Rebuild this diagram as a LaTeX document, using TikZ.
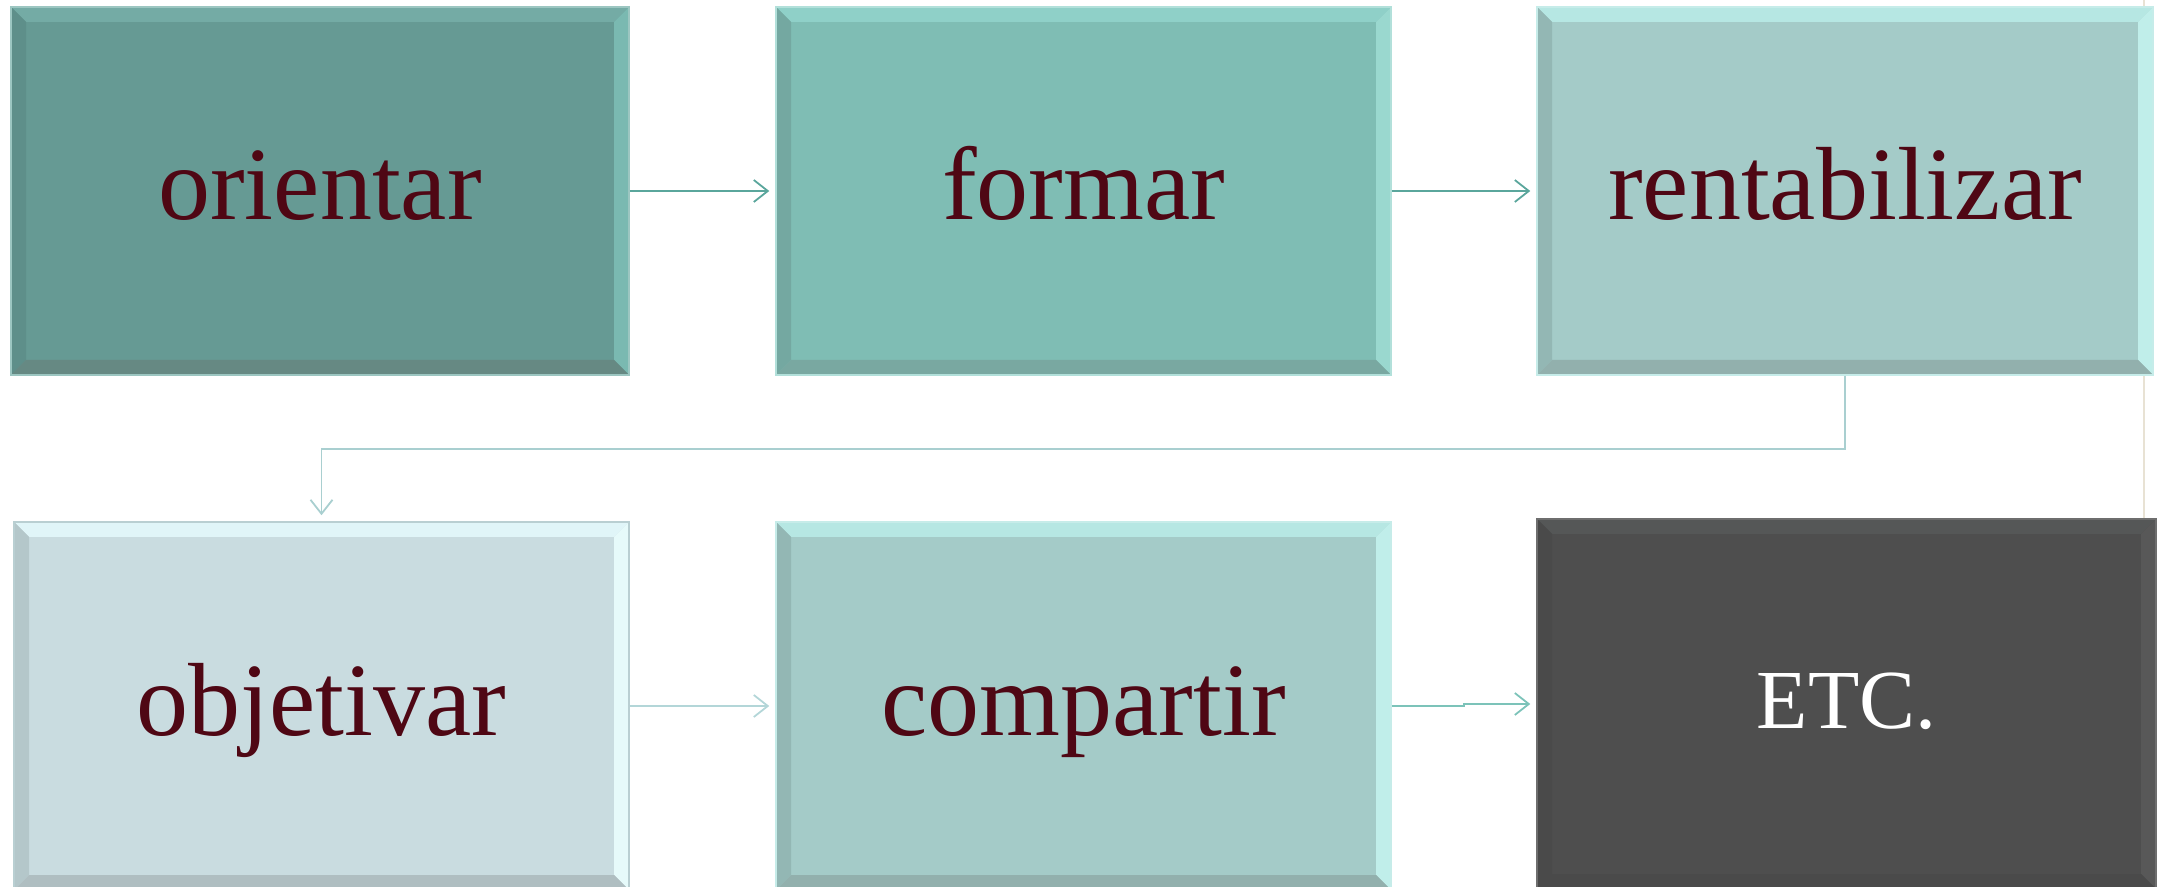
\documentclass[tikz,border=0pt]{standalone}
\usepackage{fontspec}
\setmainfont{Liberation Serif}
\usetikzlibrary{arrows.meta}
\definecolor{txtred}{HTML}{4F0714}
\definecolor{fA}{HTML}{669A94}\definecolor{tA}{HTML}{74ABA5}\definecolor{rA}{HTML}{7AB9B1}\definecolor{lA}{HTML}{5E8F8A}\definecolor{bA}{HTML}{668983}\definecolor{oA}{HTML}{9CC6C1}
\definecolor{fB}{HTML}{7FBDB4}\definecolor{tB}{HTML}{8FD0C8}\definecolor{rB}{HTML}{9AD8CF}\definecolor{lB}{HTML}{74A8A1}\definecolor{bB}{HTML}{79A8A1}\definecolor{oB}{HTML}{B2E0DA}
\definecolor{fC}{HTML}{A4CBC8}\definecolor{tC}{HTML}{B6E7E3}\definecolor{rC}{HTML}{C0EEEA}\definecolor{lC}{HTML}{93B7B4}\definecolor{bC}{HTML}{92B0AD}\definecolor{oC}{HTML}{C6ECE9}
\definecolor{fD}{HTML}{C9DCE0}\definecolor{tD}{HTML}{E0F5F8}\definecolor{rD}{HTML}{E6FAFA}\definecolor{lD}{HTML}{B4C7CA}\definecolor{bD}{HTML}{AFBEC1}\definecolor{oD}{HTML}{B9CFD2}
\definecolor{fE}{HTML}{4E4E4E}\definecolor{tE}{HTML}{555757}\definecolor{rE}{HTML}{585858}\definecolor{lE}{HTML}{4A4A4A}\definecolor{bE}{HTML}{4A4A4A}\definecolor{oE}{HTML}{6E6E6E}
\definecolor{arA}{HTML}{5AA69C}\definecolor{arB}{HTML}{A9CFD0}\definecolor{arC}{HTML}{B3D6D8}\definecolor{arD}{HTML}{7CC3B9}
\definecolor{beige}{HTML}{E8E2D4}
\tikzset{
  bevelbox/.style n args={6}{fill=#1, draw=#6, line width=0.75pt, inner sep=0pt,
    text=txtred, font=\fontsize{52}{60}\selectfont, text depth=0pt, text height=29pt,
    path picture={
      \fill[#2] (path picture bounding box.north west) -- (path picture bounding box.north east)
        -- ([shift={(-7.5pt,-7.5pt)}]path picture bounding box.north east)
        -- ([shift={(7.5pt,-7.5pt)}]path picture bounding box.north west) -- cycle;
      \fill[#3] (path picture bounding box.north east) -- (path picture bounding box.south east)
        -- ([shift={(-7.5pt,7.5pt)}]path picture bounding box.south east)
        -- ([shift={(-7.5pt,-7.5pt)}]path picture bounding box.north east) -- cycle;
      \fill[#4] (path picture bounding box.north west) -- (path picture bounding box.south west)
        -- ([shift={(7.5pt,7.5pt)}]path picture bounding box.south west)
        -- ([shift={(7.5pt,-7.5pt)}]path picture bounding box.north west) -- cycle;
      \fill[#5] (path picture bounding box.south west) -- (path picture bounding box.south east)
        -- ([shift={(-7.5pt,7.5pt)}]path picture bounding box.south east)
        -- ([shift={(7.5pt,7.5pt)}]path picture bounding box.south west) -- cycle;
    }},
  conn/.style={-{Straight Barb[length=7pt,width=11pt,line width=0.9pt]}, line width=0.9pt, shorten >=3pt}
}
\begin{document}
\begin{tikzpicture}[x=0.5pt,y=-0.5pt]
\useasboundingbox (0,0) rectangle (2164,887);
\clip (0,0) rectangle (2164,887);
\draw[beige, line width=1.2pt] (2144,0) -- (2144,887);
\node[bevelbox={fA}{tA}{rA}{lA}{bA}{oA}, minimum width=309pt, minimum height=184pt] (b1) at (320,191) {orientar};
\node[bevelbox={fB}{tB}{rB}{lB}{bB}{oB}, minimum width=307.5pt, minimum height=184pt] (b2) at (1083.5,191) {formar};
\node[bevelbox={fC}{tC}{rC}{lC}{bC}{oC}, minimum width=308pt, minimum height=184pt] (b3) at (1845,191) {rentabilizar};
\node[bevelbox={fD}{tD}{rD}{lD}{bD}{oD}, minimum width=307.5pt, minimum height=184pt] (b4) at (321.5,706) {objetivar};
\node[bevelbox={fC}{tC}{rC}{lC}{bC}{oC}, minimum width=307.5pt, minimum height=184pt] (b5) at (1083.5,706) {compartir};
\node[bevelbox={fE}{tE}{rE}{lE}{bE}{oE}, minimum width=309.5pt, minimum height=185pt, text=white, font=\fontsize{42}{50}\selectfont, text height=24pt] (b6) at (1846.5,704) {ETC.};
\coordinate (mid) at (0,449);
\coordinate (jog) at (1464,0);
\draw[conn, arA] (b1.east) -- (b2.west);
\draw[conn, arA] (b2.east) -- (b3.west);
\draw[conn, arB] (b3.south) -- (b3.south |- mid) -| (b4.north);
\draw[conn, arC] (b4.east) -- (b5.west);
\draw[conn, arD] (b5.east) -- (jog |- b5.east) -- (jog |- b6.west) -- (b6.west);
\end{tikzpicture}
\end{document}
